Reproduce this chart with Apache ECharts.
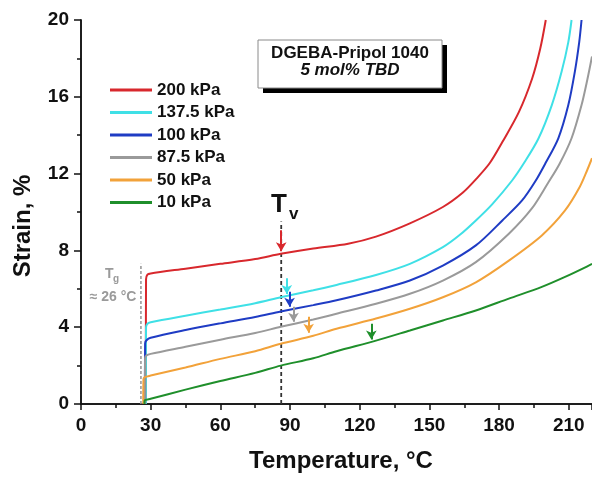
<!DOCTYPE html>
<html>
<head>
<meta charset="utf-8">
<script src="https://cdn.jsdelivr.net/npm/echarts@6/dist/echarts.min.js"></script>
<style>
  html, body { margin: 0; padding: 0; background: #fff; }
  #chart { width: 592px; height: 478px; }
</style>
</head>
<body>
<div id="chart"></div>
<script>
// Creep strain vs temperature, DGEBA-Pripol 1040 with 5 mol% TBD
const pressures = ['200 kPa', '137.5 kPa', '100 kPa', '87.5 kPa', '50 kPa', '10 kPa'];
const colors = ['#d8282d', '#3fe0e6', '#1f3cc4', '#9a9a9a', '#f2a23a', '#1f8f2b'];

// [temperature °C, strain %]
const strain200 = [[27.9,0],[28.0,6.5],[28.6,6.74],[30,6.8],[45,7.05],[60,7.3],[75,7.55],[86,7.82],[100,8.1],[115,8.35],[127,8.72],[141.6,9.41],[155.8,10.26],[164.3,11.0],[170,11.7],[176,12.55],[181.4,13.64],[188.5,15.2],[194.2,16.94],[197.7,18.5],[200.1,20]];
const strain137 = [[27.9,0],[28.0,4.0],[28.6,4.18],[30,4.26],[45,4.6],[60,4.92],[75,5.25],[86,5.56],[100,5.92],[110,6.2],[127,6.72],[141.6,7.3],[155.8,8.17],[163,8.8],[170,9.56],[177,10.4],[185.6,11.64],[191,12.6],[197,13.84],[202.7,15.57],[206.9,17.3],[209.8,18.85],[211.2,20]];
const strain100 = [[27.5,0],[27.6,3.15],[28.2,3.32],[30,3.45],[45,3.85],[60,4.2],[75,4.53],[86,4.82],[100,5.15],[110,5.4],[127,5.91],[141.6,6.43],[155.8,7.21],[170,8.26],[181.4,9.56],[189.9,10.6],[195.6,11.6],[200,12.55],[205.5,13.84],[209.8,15.57],[212.6,17.3],[214.5,18.85],[215.5,20]];
const strain87 = [[27.5,0],[27.6,2.4],[28.2,2.53],[30,2.61],[45,2.98],[60,3.35],[75,3.7],[86,4.02],[100,4.4],[110,4.7],[127,5.22],[141.6,5.74],[155.8,6.43],[170,7.39],[184.2,8.87],[194.2,10.2],[201,11.5],[206,12.5],[211.2,13.84],[215.5,15.57],[218,16.9],[220,18.1]];
const strain50 = [[26.8,0],[26.9,1.3],[27.5,1.4],[30,1.48],[45,1.9],[60,2.35],[75,2.75],[86,3.14],[100,3.55],[110,3.92],[127,4.45],[141.6,4.96],[155.8,5.56],[170,6.34],[184.2,7.47],[198.4,8.78],[208.4,10.08],[214.7,11.3],[218,12.2],[220,12.8]];
const strain10 = [[27.3,0],[27.4,0.18],[30,0.27],[45,0.75],[60,1.2],[75,1.62],[86,2.0],[100,2.38],[110,2.75],[127,3.3],[141.6,3.83],[155.8,4.35],[170,4.87],[184.2,5.49],[198.4,6.1],[208.4,6.62],[218,7.17],[220,7.3]];
const curves = [strain200, strain137, strain100, strain87, strain50, strain10];

// Tv arrows: temperature, arrow start strain, arrow tip strain
const tvTemps = [86.2, 88.6, 89.8, 91.5, 98, 125];
const arrowFrom = [9.05, 6.55, 5.85, 5.07, 4.54, 4.18];
const arrowTo = [7.95, 5.73, 5.07, 4.28, 3.71, 3.36];

// Reference lines for Tv and Tg
const tvLine = [[86.2, 0], [86.2, 9.5]];
const tgLine = [[25.8, 0], [25.8, 7.3]];

const xTicks = { min: 0, max: 220, interval: 30 };
const yTicks = { min: 0, max: 20, interval: 4 };

const FONT = '"Liberation Sans", Arial, Helvetica, sans-serif';

const chart = echarts.init(document.getElementById('chart'), null, { renderer: 'canvas' });

const axisLine = { show: true, lineStyle: { color: '#111', width: 1.5 } };

const series = [
  {
    type: 'line', name: 'Tg', data: tgLine, showSymbol: false, symbol: 'none', silent: true,
    lineStyle: { color: '#9a9a9a', width: 1.6, type: [3, 2] }, z: 1
  },
  {
    type: 'line', name: 'Tv', data: tvLine, showSymbol: false, symbol: 'none', silent: true,
    lineStyle: { color: '#333', width: 1.8, type: [4, 3] }, z: 1
  }
];

curves.forEach((c, i) => {
  series.push({
    type: 'line',
    name: pressures[i],
    data: c,
    showSymbol: false,
    symbol: 'none',
    smooth: 0.3,
    color: colors[i],
    lineStyle: { color: colors[i], width: 2 },
    z: 2,
    markLine: {
      silent: true,
      symbol: ['none', 'arrow'],
      symbolSize: [8, 9],
      label: { show: false },
      lineStyle: { color: colors[i], width: 2, type: 'solid' },
      animation: false,
      data: [[{ coord: [tvTemps[i], arrowFrom[i]] }, { coord: [tvTemps[i], arrowTo[i]] }]]
    }
  });
});

const option = {
  animation: false,
  backgroundColor: '#fff',
  textStyle: { fontFamily: FONT },
  grid: { left: 81, top: 20, width: 516, height: 384, containLabel: false },
  legend: {
    data: pressures,
    orient: 'vertical',
    left: 105,
    top: 76.5,
    icon: 'rect',
    itemWidth: 42,
    itemHeight: 3,
    itemGap: 5.5,
    itemTextGap: 5,
    textStyle: { fontFamily: FONT, fontSize: 17, fontWeight: 'bold', color: '#111', lineHeight: 17 }
  },
  xAxis: [
    {
      type: 'value', position: 'bottom',
      min: xTicks.min, max: xTicks.max, interval: xTicks.interval,
      axisLine: axisLine,
      axisTick: { show: true, inside: false, length: 6, lineStyle: { color: '#111', width: 1.5 } },
      minorTick: { show: true, splitNumber: 2, length: 4, lineStyle: { color: '#111', width: 1.5 } },
      splitLine: { show: false },
      axisLabel: { fontFamily: FONT, fontSize: 19, fontWeight: 'bold', color: '#111', margin: 12, showMaxLabel: false },
      name: 'Temperature, °C',
      nameLocation: 'middle',
      nameGap: 45,
      nameTextStyle: { fontFamily: FONT, fontSize: 24, fontWeight: 'bold', color: '#111', padding: [0, 0, 0, 9] }
    },
    {
      type: 'value', position: 'top',
      min: xTicks.min, max: xTicks.max, interval: xTicks.interval,
      axisLine: axisLine,
      axisTick: { show: true, inside: true, length: 6, lineStyle: { color: '#111', width: 1.5 } },
      minorTick: { show: true, splitNumber: 2, length: 4, lineStyle: { color: '#111', width: 1.5 } },
      splitLine: { show: false },
      axisLabel: { show: false }
    }
  ],
  yAxis: [
    {
      type: 'value', position: 'left',
      min: yTicks.min, max: yTicks.max, interval: yTicks.interval,
      axisLine: axisLine,
      axisTick: { show: true, inside: false, length: 7, lineStyle: { color: '#111', width: 1.5 } },
      minorTick: { show: true, splitNumber: 2, length: 4, lineStyle: { color: '#111', width: 1.5 } },
      splitLine: { show: false },
      axisLabel: { fontFamily: FONT, fontSize: 19, fontWeight: 'bold', color: '#111', margin: 12 }
    },
    {
      type: 'value', position: 'right',
      min: yTicks.min, max: yTicks.max, interval: yTicks.interval,
      axisLine: axisLine,
      axisTick: { show: true, inside: true, length: 7, lineStyle: { color: '#111', width: 1.5 } },
      minorTick: { show: true, splitNumber: 2, length: 4, lineStyle: { color: '#111', width: 1.5 } },
      splitLine: { show: false },
      axisLabel: { show: false }
    }
  ],
  series: series,
  graphic: [
    // y-axis title
    {
      type: 'text', x: 23, y: 226, rotation: Math.PI / 2,
      style: { text: 'Strain, %', font: 'bold 24px ' + FONT, fill: '#111', align: 'center', verticalAlign: 'middle' }
    },
    // sample label box with drop shadow
    { type: 'rect', x: 263, y: 45, shape: { width: 184, height: 48 }, style: { fill: '#000' }, z: 10 },
    { type: 'rect', x: 258, y: 40, shape: { width: 184, height: 48 }, style: { fill: '#fff', stroke: '#8a8a8a', lineWidth: 1 }, z: 11 },
    {
      type: 'text', x: 350, y: 53, z: 12,
      style: { text: 'DGEBA-Pripol 1040', font: 'bold 17px ' + FONT, fill: '#111', align: 'center', verticalAlign: 'middle' }
    },
    {
      type: 'text', x: 350, y: 70, z: 12,
      style: { text: '5 mol% TBD', font: 'italic bold 17px ' + FONT, fill: '#111', align: 'center', verticalAlign: 'middle' }
    },
    // Tv label
    {
      type: 'text', x: 271, y: 205,
      style: { text: 'T', font: 'bold 26px ' + FONT, fill: '#111', align: 'left', verticalAlign: 'middle' }
    },
    {
      type: 'text', x: 289, y: 214,
      style: { text: 'v', font: 'bold 17px ' + FONT, fill: '#111', align: 'left', verticalAlign: 'middle' }
    },
    // Tg label
    {
      type: 'text', x: 105, y: 274,
      style: { text: 'T', font: 'bold 14px ' + FONT, fill: '#9a9a9a', align: 'left', verticalAlign: 'middle' }
    },
    {
      type: 'text', x: 113, y: 279,
      style: { text: 'g', font: 'bold 10px ' + FONT, fill: '#9a9a9a', align: 'left', verticalAlign: 'middle' }
    },
    {
      type: 'text', x: 113, y: 297,
      style: { text: '≈ 26 °C', font: 'bold 14px ' + FONT, fill: '#9a9a9a', align: 'center', verticalAlign: 'middle' }
    }
  ]
};

chart.setOption(option);
</script>
</body>
</html>
